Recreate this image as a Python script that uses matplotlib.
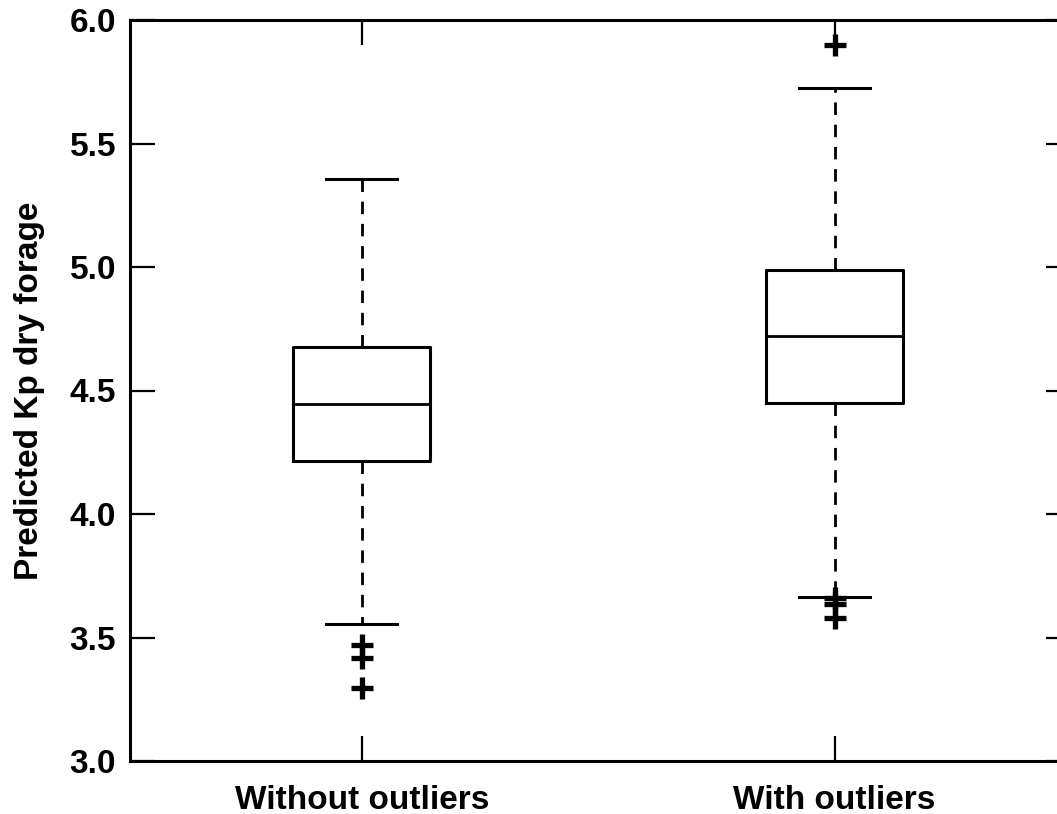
import matplotlib
matplotlib.use('Agg')
import matplotlib.pyplot as plt

# ----------------------------------------------------------------------------------------------------------------------
# data
categories = ['Without outliers', 'With outliers']
whisker_low = [3.555, 3.664]
q1_values = [4.215, 4.449]
median_values = [4.445, 4.72]
q3_values = [4.676, 4.988]
whisker_high = [5.356, 5.725]
outlier_values = [[3.47, 3.417, 3.296], [3.66, 3.636, 3.579, 5.899]]

y_ticks = [3.0, 3.5, 4.0, 4.5, 5.0, 5.5, 6.0]
y_label = 'Predicted Kp dry forage'
# ----------------------------------------------------------------------------------------------------------------------

plt.rcParams['font.family'] = ['Liberation Sans', 'DejaVu Sans']
plt.rcParams['font.weight'] = 'bold'

fig = plt.figure(figsize=(10.57, 8.14), dpi=100)
ax = fig.add_axes([130 / 1057, 53 / 814, (1071 - 130) / 1057, 741 / 814])

stats = []
for i, name in enumerate(categories):
    stats.append({
        'label': name, 'whislo': whisker_low[i], 'q1': q1_values[i], 'med': median_values[i],
        'q3': q3_values[i], 'whishi': whisker_high[i], 'fliers': outlier_values[i]})

ax.bxp(stats, positions=[1, 2], widths=0.29, capwidths=0.15,
       boxprops=dict(color='black', linewidth=2.2),
       medianprops=dict(color='black', linewidth=2.0),
       whiskerprops=dict(color='black', linewidth=2.0, linestyle=(0, (4.5, 3.5))),
       capprops=dict(color='black', linewidth=2.2),
       flierprops=dict(marker='+', markeredgecolor='black', markersize=16, markeredgewidth=3.8))

ax.set_xlim(0.51, 2.5)
ax.set_ylim(3.0, 6.0)
ax.set_yticks(y_ticks)
ax.set_yticklabels(['%.1f' % v for v in y_ticks])
ax.set_ylabel(y_label, fontsize=24, fontweight='bold', labelpad=18)

ax.tick_params(axis='both', direction='in', length=18, width=1.6, labelsize=24,
               top=True, right=True, pad=10)
ax.tick_params(axis='x', pad=17)
for lbl in ax.get_xticklabels() + ax.get_yticklabels():
    lbl.set_fontweight('bold')
for spine in ax.spines.values():
    spine.set_linewidth(2.2)

fig.savefig('out.png', dpi=100)
